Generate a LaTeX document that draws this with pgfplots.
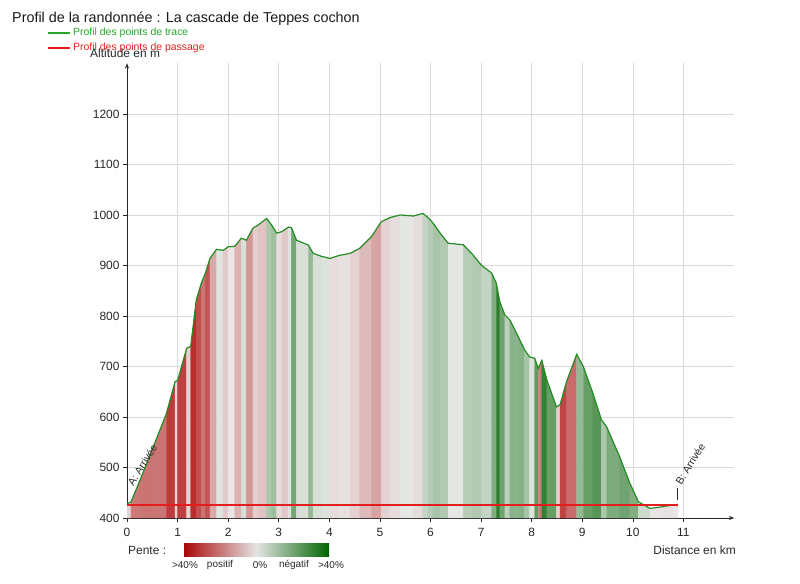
\documentclass[border=0pt]{standalone}
\usepackage{fontspec}
\setmainfont{Liberation Sans}
\usepackage{pgfplots}
\pgfplotsset{compat=1.18}
\usepgfplotslibrary{patchplots}
\usetikzlibrary{arrows.meta}
\definecolor{profgreen}{RGB}{35,140,35}
\definecolor{legred}{RGB}{228,30,30}
\definecolor{leggreen}{RGB}{40,165,40}
\definecolor{txt}{RGB}{40,40,40}
\begin{document}
\begin{tikzpicture}[x=1bp,y=1bp]
\path[use as bounding box] (0,0) rectangle (800,584);
\begin{axis}[
  at={(127bp,66bp)}, anchor=south west,
  scale only axis, width=607bp, height=454.5bp,
  xmin=0, xmax=12, ymin=400, ymax=1300, clip=false,
  axis lines=left,
  axis line style={black!85, line width=0.6pt, -{Stealth[length=5bp,width=4bp]}},
  xtick={0,...,11}, ytick={400,500,...,1200},
  grid=major, major grid style={black!15, line width=0.6pt},
  tick align=outside, major tick length=4bp,
  tick style={black!85, line width=0.6pt},
  ticklabel style={font=\fontsize{12}{14}\selectfont, text=txt},
  xticklabel style={yshift=-3bp},
  /pgf/number format/assume math mode=true,
  /pgf/number format/1000 sep={},
  colormap={slope}{rgb255(0cm)=(45,125,45); rgb255(1cm)=(234,234,234); rgb255(2cm)=(185,45,45)},
]
\addplot[patch, patch type=rectangle, shader=flat, draw=none, point meta=explicit, point meta min=-40, point meta max=40] coordinates {
(0,400)[5] (0.08,400)[5] (0.08,432)[5] (0,428)[5]
(0.08,400)[24] (0.25,400)[24] (0.25,473)[24] (0.08,432)[24]
(0.25,400)[25] (0.52,400)[25] (0.52,541)[25] (0.25,473)[25]
(0.52,400)[25] (0.78,400)[25] (0.78,607)[25] (0.52,541)[25]
(0.78,400)[37] (0.95,400)[37] (0.95,670)[37] (0.78,607)[37]
(0.95,400)[4] (1.00,400)[4] (1.00,672)[4] (0.95,670)[4]
(1.00,400)[36] (1.18,400)[36] (1.18,736)[36] (1.00,672)[36]
(1.18,400)[5] (1.26,400)[5] (1.26,740)[5] (1.18,736)[5]
(1.26,400)[40] (1.37,400)[40] (1.37,832)[40] (1.26,740)[40]
(1.37,400)[33] (1.47,400)[33] (1.47,865)[33] (1.37,832)[33]
(1.47,400)[25] (1.55,400)[25] (1.55,885)[25] (1.47,865)[25]
(1.55,400)[32] (1.64,400)[32] (1.64,914)[32] (1.55,885)[32]
(1.64,400)[14] (1.77,400)[14] (1.77,932)[14] (1.64,914)[14]
(1.77,400)[-2] (1.90,400)[-2] (1.90,930)[-2] (1.77,932)[-2]
(1.90,400)[7] (2.00,400)[7] (2.00,937)[7] (1.90,930)[7]
(2.00,400)[1] (2.13,400)[1] (2.13,938)[1] (2.00,937)[1]
(2.13,400)[12] (2.26,400)[12] (2.26,954)[12] (2.13,938)[12]
(2.26,400)[-4] (2.36,400)[-4] (2.36,950)[-4] (2.26,954)[-4]
(2.36,400)[18] (2.49,400)[18] (2.49,974)[18] (2.36,950)[18]
(2.49,400)[6] (2.59,400)[6] (2.59,980)[6] (2.49,974)[6]
(2.59,400)[8] (2.76,400)[8] (2.76,993)[8] (2.59,980)[8]
(2.76,400)[-13] (2.86,400)[-13] (2.86,980)[-13] (2.76,993)[-13]
(2.86,400)[-16] (2.96,400)[-16] (2.96,964)[-16] (2.86,980)[-16]
(2.96,400)[3] (3.06,400)[3] (3.06,967)[3] (2.96,964)[3]
(3.06,400)[7] (3.19,400)[7] (3.19,976)[7] (3.06,967)[7]
(3.19,400)[-2] (3.25,400)[-2] (3.25,975)[-2] (3.19,976)[-2]
(3.25,400)[-25] (3.35,400)[-25] (3.35,950)[-25] (3.25,975)[-25]
(3.35,400)[-4] (3.50,400)[-4] (3.50,944)[-4] (3.35,950)[-4]
(3.50,400)[-4] (3.59,400)[-4] (3.59,940)[-4] (3.50,944)[-4]
(3.59,400)[-18] (3.68,400)[-18] (3.68,924)[-18] (3.59,940)[-18]
(3.68,400)[-4] (3.85,400)[-4] (3.85,918)[-4] (3.68,924)[-4]
(3.85,400)[-3] (4.01,400)[-3] (4.01,914)[-3] (3.85,918)[-3]
(4.01,400)[3] (4.20,400)[3] (4.20,920)[3] (4.01,914)[3]
(4.20,400)[2] (4.41,400)[2] (4.41,924)[2] (4.20,920)[2]
(4.41,400)[5] (4.60,400)[5] (4.60,934)[5] (4.41,924)[5]
(4.60,400)[10] (4.83,400)[10] (4.83,957)[10] (4.60,934)[10]
(4.83,400)[15] (5.03,400)[15] (5.03,987)[15] (4.83,957)[15]
(5.03,400)[5] (5.20,400)[5] (5.20,995)[5] (5.03,987)[5]
(5.20,400)[3] (5.40,400)[3] (5.40,1000)[3] (5.20,995)[3]
(5.40,400)[-1] (5.66,400)[-1] (5.66,998)[-1] (5.40,1000)[-1]
(5.66,400)[3] (5.85,400)[3] (5.85,1003)[3] (5.66,998)[3]
(5.85,400)[-8] (5.95,400)[-8] (5.95,995)[-8] (5.85,1003)[-8]
(5.95,400)[-11] (6.05,400)[-11] (6.05,984)[-11] (5.95,995)[-11]
(6.05,400)[-14] (6.19,400)[-14] (6.19,964)[-14] (6.05,984)[-14]
(6.19,400)[-12] (6.35,400)[-12] (6.35,944)[-12] (6.19,964)[-12]
(6.35,400)[-1] (6.65,400)[-1] (6.65,941)[-1] (6.35,944)[-1]
(6.65,400)[-11] (6.84,400)[-11] (6.84,921)[-11] (6.65,941)[-11]
(6.84,400)[-12] (7.01,400)[-12] (7.01,900)[-12] (6.84,921)[-12]
(7.01,400)[-8] (7.21,400)[-8] (7.21,885)[-8] (7.01,900)[-8]
(7.21,400)[-22] (7.30,400)[-22] (7.30,865)[-22] (7.21,885)[-22]
(7.30,400)[-40] (7.37,400)[-40] (7.37,828)[-40] (7.30,865)[-40]
(7.37,400)[-26] (7.47,400)[-26] (7.47,802)[-26] (7.37,828)[-26]
(7.47,400)[-10] (7.57,400)[-10] (7.57,792)[-10] (7.47,802)[-10]
(7.57,400)[-20] (7.70,400)[-20] (7.70,766)[-20] (7.57,792)[-20]
(7.70,400)[-21] (7.86,400)[-21] (7.86,733)[-21] (7.70,766)[-21]
(7.86,400)[-14] (7.96,400)[-14] (7.96,719)[-14] (7.86,733)[-14]
(7.96,400)[-3] (8.06,400)[-3] (8.06,716)[-3] (7.96,719)[-3]
(8.06,400)[-29] (8.13,400)[-29] (8.13,696)[-29] (8.06,716)[-29]
(8.13,400)[23] (8.20,400)[23] (8.20,712)[23] (8.13,696)[23]
(8.20,400)[-39] (8.30,400)[-39] (8.30,673)[-39] (8.20,712)[-39]
(8.30,400)[-28] (8.49,400)[-28] (8.49,620)[-28] (8.30,673)[-28]
(8.49,400)[6] (8.56,400)[6] (8.56,624)[6] (8.49,620)[6]
(8.56,400)[35] (8.69,400)[35] (8.69,670)[35] (8.56,624)[35]
(8.69,400)[27] (8.89,400)[27] (8.89,724)[27] (8.69,670)[27]
(8.89,400)[-18] (9.02,400)[-18] (9.02,700)[-18] (8.89,724)[-18]
(9.02,400)[-28] (9.21,400)[-28] (9.21,647)[-28] (9.02,700)[-28]
(9.21,400)[-31] (9.38,400)[-31] (9.38,594)[-31] (9.21,647)[-31]
(9.38,400)[-13] (9.48,400)[-13] (9.48,581)[-13] (9.38,594)[-13]
(9.48,400)[-23] (9.74,400)[-23] (9.74,521)[-23] (9.48,581)[-23]
(9.74,400)[-26] (9.94,400)[-26] (9.94,469)[-26] (9.74,521)[-26]
(9.94,400)[-22] (10.11,400)[-22] (10.11,432)[-22] (9.94,469)[-22]
(10.11,400)[-6] (10.34,400)[-6] (10.34,419)[-6] (10.11,432)[-6]
(10.34,400)[1] (10.57,400)[1] (10.57,422)[1] (10.34,419)[1]
(10.57,400)[2] (10.80,400)[2] (10.80,426)[2] (10.57,422)[2]
(10.80,400)[1] (10.89,400)[1] (10.89,427)[1] (10.80,426)[1]
};
\addplot[color=profgreen, line width=1.2pt, mark=none] coordinates {
(0.00,428) (0.08,432) (0.25,473) (0.52,541) (0.78,607) (0.95,670) (1.00,672)
(1.18,736) (1.26,740) (1.37,832) (1.47,865) (1.55,885) (1.64,914) (1.77,932)
(1.90,930) (2.00,937) (2.13,938) (2.26,954) (2.36,950) (2.49,974) (2.59,980)
(2.76,993) (2.86,980) (2.96,964) (3.06,967) (3.19,976) (3.25,975) (3.35,950)
(3.50,944) (3.59,940) (3.68,924) (3.85,918) (4.01,914) (4.20,920) (4.41,924)
(4.60,934) (4.83,957) (5.03,987) (5.20,995) (5.40,1000) (5.66,998) (5.85,1003)
(5.95,995) (6.05,984) (6.19,964) (6.35,944) (6.65,941) (6.84,921) (7.01,900)
(7.21,885) (7.30,865) (7.37,828) (7.47,802) (7.57,792) (7.70,766) (7.86,733)
(7.96,719) (8.06,716) (8.13,696) (8.20,712) (8.30,673) (8.49,620) (8.56,624)
(8.69,670) (8.89,724) (9.02,700) (9.21,647) (9.38,594) (9.48,581) (9.74,521)
(9.94,469) (10.11,432) (10.34,419) (10.57,422) (10.80,426) (10.89,427)
};
\addplot[color=legred, line width=2.2pt, mark=none] coordinates {(0,425) (10.89,425)};
\draw[black!85, line width=0.8pt] (axis cs:10.89,436) -- (axis cs:10.89,459);
\node[rotate=58, anchor=south west, inner sep=0pt, font=\fontsize{10.5}{12}\selectfont, text=txt] at (axis cs:0.13,462) {A: Arrivée};
\node[rotate=58, anchor=south west, inner sep=0pt, font=\fontsize{10.5}{12}\selectfont, text=txt] at (axis cs:10.96,464) {B: Arrivée};
\end{axis}
% title
\node[anchor=base west, inner sep=0pt, font=\fontsize{14.4}{16}\selectfont, text=black!90] at (12,561) {Profil de la randonnée : La cascade de Teppes cochon};
% legend
\draw[leggreen, line width=2pt] (48,551) -- (70,551);
\node[anchor=west, inner sep=0pt, font=\fontsize{10.5}{12}\selectfont, text=leggreen] at (73,551) {Profil des points de trace};
\draw[legred, line width=2pt] (48,536) -- (70,536);
\node[anchor=west, inner sep=0pt, font=\fontsize{10.5}{12}\selectfont, text=legred] at (73,536) {Profil des points de passage};
% y label
\node[anchor=west, inner sep=0pt, font=\fontsize{12}{14}\selectfont, text=txt] at (90,531) {Altitude en m};
% x label
\node[anchor=east, inner sep=0pt, font=\fontsize{12}{14}\selectfont, text=txt] at (736,34) {Distance en km};
% slope legend
\node[anchor=west, inner sep=0pt, font=\fontsize{12}{14}\selectfont, text=txt] at (128,34) {Pente :};
\shade[left color={rgb,255:red,170;green,8;blue,8}, right color={rgb,255:red,0;green,100;blue,0}, middle color={rgb,255:red,228;green,228;blue,228}] (184,27) rectangle (329,40);
\node[inner sep=0pt, font=\fontsize{10}{12}\selectfont, text=txt] at (185,19) {>40\%};
\node[inner sep=0pt, font=\fontsize{10}{12}\selectfont, text=txt] at (220,19) {positif};
\node[inner sep=0pt, font=\fontsize{10}{12}\selectfont, text=txt] at (260,19) {0\%};
\node[inner sep=0pt, font=\fontsize{10}{12}\selectfont, text=txt] at (294,19) {négatif};
\node[inner sep=0pt, font=\fontsize{10}{12}\selectfont, text=txt] at (331,19) {>40\%};
\end{tikzpicture}
\end{document}
